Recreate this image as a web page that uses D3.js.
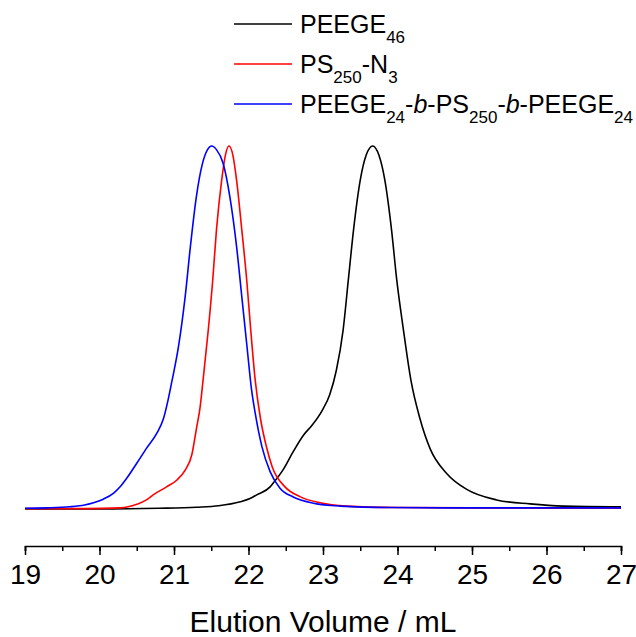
<!DOCTYPE html>
<html><head><meta charset="utf-8">
<script src="https://cdn.jsdelivr.net/npm/d3@7"></script>
<style>body{margin:0;background:#fff}svg{display:block;font-family:"Liberation Sans",Arial,sans-serif}</style>
</head><body><svg id="c" width="636" height="637"></svg>
<script>
const xTicks = [19,20,21,22,23,24,25,26,27];
const xLabel = "Elution Volume / mL";
// normalized RI signal vs elution volume (mL)
const peegeVol = [19.0,20.0,20.8,21.3,21.6,21.89,22.02,22.11,22.29,22.33,22.47,22.6,22.74,22.85,22.99,23.09,23.18,23.27,23.34,23.41,23.50,23.58,23.667,23.75,23.83,23.92,23.99,24.08,24.18,24.30,24.44,24.66,24.93,25.33,25.78,26.23,27.0];
const peegeInt = [0.0,0.0,0.002,0.005,0.009,0.02,0.029,0.039,0.061,0.071,0.11,0.158,0.204,0.23,0.272,0.315,0.383,0.493,0.631,0.769,0.906,0.975,1.0,0.975,0.906,0.769,0.631,0.493,0.355,0.25,0.165,0.098,0.054,0.025,0.014,0.008,0.006];
const psVol = [19.0,19.8,20.28,20.5,20.63,20.72,20.9,21.04,21.15,21.24,21.30,21.35,21.39,21.46,21.52,21.57,21.64,21.69,21.738,21.79,21.84,21.91,21.976,22.03,22.09,22.16,22.24,22.32,22.49,22.69,22.96,23.32,24.0,25.0,27.0];
const psInt = [0.001,0.001,0.003,0.013,0.025,0.039,0.061,0.08,0.107,0.15,0.22,0.28,0.355,0.493,0.631,0.769,0.906,0.975,1.0,0.975,0.906,0.769,0.631,0.493,0.355,0.25,0.172,0.115,0.061,0.034,0.017,0.008,0.004,0.003,0.002];
const triVol = [19.0,19.3,19.6,19.8,19.92,20.05,20.19,20.28,20.37,20.5,20.63,20.77,20.86,20.92,20.97,21.06,21.15,21.22,21.30,21.38,21.45,21.506,21.57,21.66,21.75,21.84,21.91,21.98,22.04,22.09,22.18,22.29,22.42,22.6,22.87,23.23,23.9,25.0,27.0];
const triInt = [0.002,0.003,0.006,0.011,0.017,0.027,0.044,0.062,0.086,0.126,0.167,0.209,0.25,0.30,0.35,0.447,0.585,0.723,0.86,0.95,0.99,1.0,0.99,0.952,0.86,0.723,0.585,0.447,0.33,0.264,0.172,0.103,0.058,0.033,0.016,0.008,0.004,0.003,0.003];
const seriesNames = ["PEEGE46","PS250-N3","PEEGE24-b-PS250-b-PEEGE24"];
const seriesColors = ["#000000","#ff0000","#0000ff"];

const svg = d3.select("#c");
const x = d3.scaleLinear().domain([19,27]).range([25,621]);
const y = d3.scaleLinear().domain([0,1]).range([509,146]);

const series = [
  {vol: peegeVol, int: peegeInt, color: seriesColors[0]},
  {vol: psVol, int: psInt, color: seriesColors[1]},
  {vol: triVol, int: triInt, color: seriesColors[2]}
];
const line = d3.line().x(d=>x(d[0])).y(d=>y(d[1])).curve(d3.curveMonotoneX);
series.forEach(s=>{
  svg.append("path").datum(s.vol.map((v,i)=>[v,s.int[i]]))
    .attr("fill","none").attr("stroke",s.color).attr("stroke-width",1.6).attr("d",line);
});

// x axis
const gx = svg.append("g").attr("transform","translate(0,546)");
gx.call(d3.axisBottom(x).tickValues(d3.range(19,27.01,0.5)).tickSize(5).tickFormat(""));
gx.selectAll(".tick line").attr("stroke-width",1.5);
gx.select(".domain").attr("stroke-width",1.5);
const gx2 = svg.append("g").attr("transform","translate(0,546)");
gx2.call(d3.axisBottom(x).tickValues(xTicks).tickSize(9).tickPadding(9).tickFormat(d3.format("d")));
gx2.select(".domain").remove();
gx2.selectAll(".tick line").attr("stroke-width",1.5);
gx2.selectAll(".tick text").attr("font-size",28).attr("font-family","Liberation Sans, Arial, sans-serif").attr("fill","#000");
svg.append("text").attr("x",(x(19)+x(27))/2).attr("y",632).attr("text-anchor","middle")
  .attr("font-size",30).text(xLabel);

// legend
const legY = [33,73,113];
const legParts = [
  [["PEEGE",""],["46","sub"]],
  [["PS",""],["250","sub"],["-N",""],["3","sub"]],
  [["PEEGE",""],["24","sub"],["-",""],["b","it"],["-PS",""],["250","sub"],["-",""],["b","it"],["-PEEGE",""],["24","sub"]]
];
legParts.forEach((parts,i)=>{
  svg.append("line").attr("x1",234).attr("x2",292).attr("y1",legY[i]-9).attr("y2",legY[i]-9)
    .attr("stroke",seriesColors[i]).attr("stroke-width",1.6);
  const t = svg.append("text").attr("x",300).attr("y",legY[i]).attr("font-size",25);
  let shifted = false;
  parts.forEach(([s,k])=>{
    const ts = t.append("tspan").text(s);
    if (k==="sub") { ts.attr("font-size",17).attr("dy", shifted?0:10); shifted = true; }
    else { if (shifted) { ts.attr("dy",-10); shifted=false; } if (k==="it") ts.attr("font-style","italic"); }
  });
});
</script></body></html>
